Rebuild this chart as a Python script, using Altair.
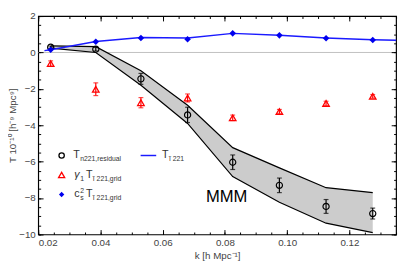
import altair as alt
import pandas as pd

# ---- data ----
k = [0.024, 0.0385, 0.053, 0.068, 0.0825, 0.0975, 0.1125, 0.1275]
resid = [0.29, 0.18, -1.45, -3.43, -6.03, -7.30, -8.46, -8.85]
resid_err = [0.06, 0.10, 0.30, 0.42, 0.40, 0.40, 0.38, 0.30]
band_hi = [0.36, 0.32, -1.00, -2.90, -5.23, -6.34, -7.43, -7.70]
band_lo = [0.24, 0.00, -1.80, -3.90, -6.82, -8.23, -9.38, -9.90]
gamma = [-0.61, -2.02, -2.76, -2.50, -3.59, -3.25, -2.80, -2.41]
gamma_err = [0.15, 0.35, 0.28, 0.22, 0.15, 0.12, 0.12, 0.10]
cs2 = [0.15, 0.59, 0.80, 0.73, 1.05, 0.94, 0.78, 0.69]
line_k = [0.022, 0.024, 0.0385, 0.053, 0.068, 0.0825, 0.0975, 0.1125, 0.1275, 0.135]
line_v = [0.10, 0.15, 0.60, 0.82, 0.80, 1.05, 0.95, 0.80, 0.70, 0.67]

x_major = [0.02, 0.04, 0.06, 0.08, 0.10, 0.12]
x_minor = [round(0.02 + 0.005 * i, 3) for i in range(24)]
y_major = [-10, -8, -6, -4, -2, 0, 2]
y_minor = [-10 + 0.5 * i for i in range(25)]

W, H = 367, 224
FONT = "Liberation Sans"

df = pd.DataFrame(dict(
    k=k, resid=resid,
    rlo=[v - e for v, e in zip(resid, resid_err)],
    rhi=[v + e for v, e in zip(resid, resid_err)],
    hi=band_hi, lo=band_lo, gam=gamma,
    glo=[v - e for v, e in zip(gamma, gamma_err)],
    ghi=[v + e for v, e in zip(gamma, gamma_err)],
    cs2=cs2,
))
line_df = pd.DataFrame(dict(k=line_k, v=line_v))
caps_r = pd.DataFrame(dict(k=k + k, v=list(df.rlo) + list(df.rhi)))
caps_g = pd.DataFrame(dict(k=k + k, v=list(df.glo) + list(df.ghi)))
zero_df = pd.DataFrame(dict(y=[0]))
dummy = pd.DataFrame(dict(a=[0]))

xs = alt.Scale(domain=[0.02, 0.135], nice=False, zero=False)
ys = alt.Scale(domain=[-10, 2], nice=False, zero=False)


def xaxis(orient, minor):
    if minor:
        return alt.Axis(orient=orient, values=x_minor, labels=False, title=None,
                        tickSize=2.5, offset=-2.5, domain=False, grid=False,
                        tickColor="black", zindex=1)
    if orient == "bottom":
        return alt.Axis(orient=orient, values=x_major, format=".2f",
                        title="k [h Mpc\u207b\u00b9]", tickSize=5, offset=-5,
                        labelPadding=3, titlePadding=4, domain=False, grid=False,
                        tickColor="black", zindex=1)
    return alt.Axis(orient=orient, values=x_major, labels=False, title=None,
                    tickSize=5, offset=-5, domain=False, grid=False,
                    tickColor="black", zindex=1)


def yaxis(orient, minor):
    if minor:
        return alt.Axis(orient=orient, values=y_minor, labels=False, title=None,
                        tickSize=2.5, offset=-2.5, domain=False, grid=False,
                        tickColor="black", zindex=1)
    if orient == "left":
        return alt.Axis(orient=orient, values=y_major, format="d",
                        title="T 10\u207b\u00b9\u2070 [h\u207b\u2079 Mpc\u2079]",
                        tickSize=5, offset=-5, labelPadding=3, titlePadding=1,
                        domain=False, grid=False, tickColor="black", zindex=1)
    return alt.Axis(orient=orient, values=y_major, labels=False, title=None,
                    tickSize=5, offset=-5, domain=False, grid=False,
                    tickColor="black", zindex=1)


X = lambda f, ax=None: alt.X(f, scale=xs, axis=ax, title=None) if ax is None else alt.X(f, scale=xs, axis=ax)
Y = lambda f, ax=None: alt.Y(f, scale=ys, axis=ax, title=None) if ax is None else alt.Y(f, scale=ys, axis=ax)

zero = alt.Chart(zero_df).mark_rule(color="#c0c0c0", strokeWidth=1).encode(
    y=alt.Y("y:Q", scale=ys, axis=None))

band = alt.Chart(df).mark_area(color="#cccccc", opacity=1).encode(
    x=X("k:Q", xaxis("bottom", False)), y=Y("hi:Q", yaxis("left", False)), y2="lo:Q")
upper = alt.Chart(df).mark_line(color="black", strokeWidth=1.2).encode(
    x=X("k:Q", xaxis("top", False)), y=Y("hi:Q", yaxis("right", False)))
lower = alt.Chart(df).mark_line(color="black", strokeWidth=1.2).encode(
    x=X("k:Q", xaxis("bottom", True)), y=Y("lo:Q", yaxis("left", True)))

r_bars = alt.Chart(df).mark_rule(color="black", strokeWidth=1.2).encode(
    x=X("k:Q"), y=Y("rlo:Q"), y2="rhi:Q")
r_caps = alt.Chart(caps_r).mark_tick(color="black", orient="horizontal", size=5, thickness=1.2).encode(
    x=X("k:Q"), y=Y("v:Q"))
circles = alt.Chart(df).mark_point(shape="circle", filled=False, color="black",
                                   strokeWidth=1.2, size=40, opacity=1).encode(
    x=X("k:Q", xaxis("top", True)), y=Y("resid:Q", yaxis("right", True)))

g_bars = alt.Chart(df).mark_rule(color="red", strokeWidth=1.2).encode(
    x=X("k:Q"), y=Y("glo:Q"), y2="ghi:Q")
g_caps = alt.Chart(caps_g).mark_tick(color="red", orient="horizontal", size=5, thickness=1.2).encode(
    x=X("k:Q"), y=Y("v:Q"))
tri = alt.Chart(df).mark_point(shape="triangle-up", filled=False, color="red",
                               strokeWidth=1.3, size=45, opacity=1).encode(
    x=X("k:Q"), y=Y("gam:Q"))

bline = alt.Chart(line_df).mark_line(color="#1a1aff", strokeWidth=1.5).encode(
    x=X("k:Q"), y=Y("v:Q"))
diam = alt.Chart(df).mark_point(shape="diamond", filled=True, color="#0000ee",
                                size=45, opacity=1).encode(
    x=X("k:Q"), y=Y("cs2:Q"))


def txt(s, x, y, size=11, color="#333333", style="normal"):
    return alt.Chart(dummy).mark_text(text=s, align="left", baseline="middle",
                                      fontSize=size, font=FONT, color=color,
                                      fontStyle=style).encode(
        x=alt.value(x), y=alt.value(y))


def sym(shape, x, y, color, filled, size):
    return alt.Chart(dummy).mark_point(shape=shape, filled=filled, color=color,
                                       size=size, strokeWidth=1.3, opacity=1).encode(
        x=alt.value(x), y=alt.value(y))


L1, L2, L3 = 143, 163, 183
legend = [
    sym("circle", 24, L1, "black", False, 30),
    txt("T", 36, L1),
    txt("n221,residual", 43, L1 + 4, size=7),
    sym("triangle-up", 24, L2, "red", False, 40),
    txt("\u03b3", 37, L2, style="italic"),
    txt("1", 43, L2 + 4, size=7),
    txt("T", 49, L2),
    txt("\u0129 221,grid", 56, L2 + 4, size=7),
    sym("diamond", 24, L3, "#0000ee", True, 30),
    txt("c", 37, L3),
    txt("2", 43, L3 - 4, size=7),
    txt("s", 43, L3 + 4, size=7),
    txt("T", 49, L3),
    txt("\u0129 221,grid", 56, L3 + 4, size=7),
    alt.Chart(dummy).mark_rule(color="#1a1aff", strokeWidth=1.5).encode(
        x=alt.value(105), x2=alt.value(121), y=alt.value(L1)),
    txt("T", 127, L1),
    txt("\u0129 221", 134, L1 + 4, size=7),
    txt("MMM", 172, 186, size=17, color="black"),
]

chart = alt.layer(
    zero, band, upper, lower, r_bars, r_caps, circles,
    g_bars, g_caps, tri, bline, diam, *legend
).properties(
    width=W, height=H, padding={"left": 0, "top": 0, "right": 0, "bottom": 0}
).configure_view(
    stroke="black", strokeWidth=1.2
).configure_axis(
    labelFont=FONT, labelFontSize=10, labelColor="#444444",
    titleFont=FONT, titleFontSize=10, titleFontWeight="normal", titleColor="#444444"
)

chart.save("out.html", embed_options={"renderer": "svg", "actions": False})
